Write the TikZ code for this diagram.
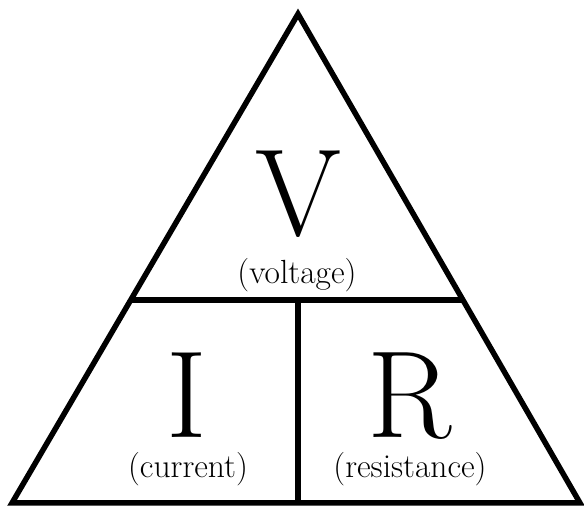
\documentclass[tikz,border=0pt]{standalone}
\usepackage{fontspec}
\usepackage{tikz}

\begin{document}
\begin{tikzpicture}[x=1pt,y=-1pt,
    tri/.style={line width=5.5pt},
    sym/.style={font=\fontsize{124}{124}\selectfont,anchor=base,inner sep=0pt,text depth=0pt},
    word/.style={font=\fontsize{33.5}{34}\selectfont,anchor=base,inner sep=0pt}]
  \useasboundingbox (0,0) rectangle (584,510);
  \coordinate (top) at (298,14);
  \coordinate (bl) at (12,503);
  \coordinate (br) at (580,503);
  \coordinate (ml) at (131.5,300);
  \coordinate (mr) at (463,300);
  \coordinate (mm) at (298,300);
  \coordinate (bm) at (298,503);
  \draw[tri] (top) -- (bl) -- (br) -- cycle;
  \draw[tri] (ml) -- (mr);
  \draw[tri] (mm) -- (bm);
  \node[sym] (v) at (298,236) {V};
  \node[word] (vtext) at (297,284) {(voltage)};
  \node[sym] (i) at (187,438) {I};
  \node[word] (itext) at (188,478) {(current)};
  \node[sym] (r) at (410,438) {R};
  \node[word] (rtext) at (410,478) {(resistance)};
\end{tikzpicture}
\end{document}
